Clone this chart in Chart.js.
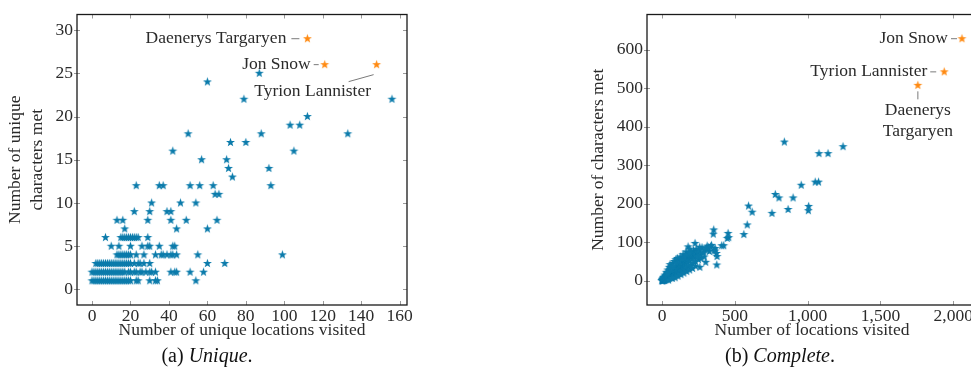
<!DOCTYPE html>
<html>
<head>
<meta charset="utf-8">
<script src="https://cdn.jsdelivr.net/npm/chart.js@4.4.1/dist/chart.umd.min.js"></script>
<style>
  html, body { margin: 0; padding: 0; background: #fff; overflow: hidden; }
  body { width: 971px; height: 379px; position: relative; }
  .panel { position: absolute; top: 0; width: 420px; height: 345px; }
  #uniquePanel { left: 0; }
  #completePanel { left: 580px; }
  .caption {
    position: absolute; top: 344px; transform: translateX(-50%);
    font-family: "Liberation Serif", serif; font-size: 20px; color: #111; white-space: nowrap;
  }
</style>
</head>
<body>
<div class="panel" id="uniquePanel"><canvas id="uniqueChart"></canvas></div>
<div class="panel" id="completePanel"><canvas id="completeChart"></canvas></div>
<div class="caption" style="left: 207px">(a) <i>Unique</i>.</div>
<div class="caption" style="left: 780px">(b) <i>Complete</i>.</div>
<script>
// (a) unique locations / unique characters, grouped by number of characters met
const uniqueLevels = [1, 2, 3, 4, 5, 6, 7, 8, 9, 10, 11, 12, 13, 14, 15, 16, 17, 18, 19, 20, 22, 24, 25];
const uniqueLocationsByLevel = [
  [0, 1, 2, 3, 4, 5, 6, 7, 8, 9, 10, 11, 12, 13, 14, 15, 16, 17, 18, 19, 20, 23, 24, 30, 33, 34, 54],
  [0, 1, 2, 3, 4, 5, 6, 7, 8, 9, 10, 11, 12, 13, 14, 15, 16, 17, 19, 20, 22, 23, 25, 26, 28, 30, 31, 33, 41, 43, 44, 51, 58],
  [2, 3, 4, 5, 6, 7, 8, 9, 10, 11, 12, 13, 14, 15, 16, 17, 18, 19, 20, 22, 24, 25, 27, 30, 60, 69],
  [13, 14, 15, 16, 17, 18, 19, 20, 23, 27, 33, 36, 37, 39, 41, 42, 44, 55, 99],
  [10, 14, 20, 26, 29, 30, 35, 42, 43],
  [7, 15, 16, 17, 18, 19, 20, 21, 22, 23, 24, 29],
  [17, 44, 60],
  [13, 16, 29, 41, 49, 65],
  [22, 30, 39, 41],
  [31, 46, 54],
  [64, 66],
  [23, 35, 37, 51, 56, 63, 93],
  [73],
  [71, 92],
  [57, 70],
  [42, 105],
  [72, 80],
  [50, 88, 133],
  [103, 108],
  [112],
  [79, 156],
  [60],
  [87]
];

// (b) all locations / all characters met
const completePoints = [
  [0, 0], [1, 1], [2, 0], [3, 2], [4, 1], [5, 3], [6, 0], [7, 2], [8, 4], [9, 1], [10, 3], [11, 5],
  [12, 2], [14, 4], [15, 6], [16, 1], [18, 3], [19, 7], [20, 5], [22, 2], [23, 8], [25, 4], [26, 10],
  [28, 6], [30, 3], [31, 9], [33, 12], [35, 5], [36, 8], [38, 14], [40, 7], [41, 11], [43, 4], [45, 16],
  [46, 9], [48, 13], [50, 6], [52, 18], [53, 11], [55, 15], [57, 8], [58, 20], [60, 12], [62, 17],
  [64, 9], [66, 23], [68, 14], [70, 19], [72, 10], [74, 25], [76, 16], [78, 21], [80, 12], [82, 28],
  [84, 18], [86, 24], [88, 14], [90, 31], [92, 20], [94, 26], [96, 15], [98, 34], [100, 22], [103, 28],
  [106, 17], [108, 38], [110, 25], [112, 31], [115, 19], [118, 42], [120, 28], [123, 35], [126, 21],
  [128, 46], [130, 32], [133, 39], [136, 24], [138, 50], [140, 36], [143, 43], [146, 27], [148, 55],
  [150, 40], [153, 47], [156, 30], [160, 60], [162, 44], [165, 52], [168, 33], [172, 66], [175, 48],
  [178, 57], [182, 37], [185, 70], [188, 52], [192, 62], [196, 41], [200, 74], [204, 56], [208, 66],
  [212, 45], [216, 78], [220, 60], [225, 70], [230, 50], [235, 82], [240, 64], [245, 74], [250, 55],
  [256, 80], [262, 68], [268, 58], [275, 86], [282, 72], [290, 62], [296, 80], [310, 90], [325, 76],
  [5, 5], [10, 8], [12, 9], [15, 10], [20, 15], [25, 12], [30, 22], [35, 18], [40, 28], [40, 20],
  [50, 35], [55, 42], [60, 30], [65, 38], [75, 45], [80, 38], [85, 50], [95, 55], [100, 45],
  [105, 58], [115, 48], [120, 50], [125, 62], [135, 55], [140, 58], [145, 68], [155, 60], [165, 75],
  [170, 68], [190, 72], [45, 2], [70, 6], [90, 8], [110, 12], [130, 16], [150, 20], [170, 24],
  [190, 28], [210, 32], [230, 38],
  [179, 88], [190, 82], [227, 97], [243, 63], [250, 78], [259, 87], [260, 35], [287, 75], [300, 48],
  [305, 84], [320, 86], [333, 88], [340, 92], [358, 80], [365, 84], [363, 77], [374, 71], [378, 63],
  [376, 41], [410, 91], [424, 91], [355, 132], [352, 121], [454, 123], [458, 112], [448, 110],
  [562, 120], [585, 145], [594, 194], [619, 178], [755, 175], [778, 224], [803, 215], [866, 185],
  [900, 215], [956, 248], [1007, 193], [1005, 182], [1052, 256], [1075, 256], [840, 360],
  [1078, 330], [1140, 330], [1243, 348]
];

const namedCharacters = ['Daenerys Targaryen', 'Jon Snow', 'Tyrion Lannister'];
const namedUniqueLocations = [112, 121, 148];
const namedUniqueCharacters = [29, 26, 26];
const namedCompleteLocations = [1757, 2060, 1938];
const namedCompleteCharacters = [507, 628, 542];

const uniqueXTicks = [0, 20, 40, 60, 80, 100, 120, 140, 160];
const uniqueYTicks = [0, 5, 10, 15, 20, 25, 30];
const completeXTicks = [0, 500, 1000, 1500, 2000];
const completeYTicks = [0, 100, 200, 300, 400, 500, 600];

const BLUE = '#0b7bab';
const ORANGE = '#ff8a12';
const TEXT = '#2b2b2b';
const FONT = '"Liberation Serif", "Times New Roman", serif';

Chart.defaults.font.family = FONT;
Chart.defaults.font.size = 17.5;
Chart.defaults.color = TEXT;

function starImage(color) {
  const size = 11;
  const c = document.createElement('canvas');
  c.width = size;
  c.height = size;
  const ctx = c.getContext('2d');
  ctx.beginPath();
  for (let i = 0; i < 10; i++) {
    const r = i % 2 ? 1.9 : 4.7;
    const a = -Math.PI / 2 + i * Math.PI / 5;
    ctx.lineTo(size / 2 + r * Math.cos(a), size / 2 + r * Math.sin(a));
  }
  ctx.closePath();
  ctx.fillStyle = color;
  ctx.fill();
  return c;
}

// box + small inward ticks on all four sides
const frame = {
  id: 'frame',
  afterDatasetsDraw(chart) {
    const { ctx, chartArea: a, scales: { x, y } } = chart;
    ctx.save();
    ctx.strokeStyle = '#9a9a9a';
    ctx.lineWidth = 1;
    ctx.beginPath();
    x.ticks.forEach((t) => {
      const px = Math.round(x.getPixelForValue(t.value)) + 0.5;
      ctx.moveTo(px, a.bottom); ctx.lineTo(px, a.bottom - 4);
      ctx.moveTo(px, a.top); ctx.lineTo(px, a.top + 4);
    });
    y.ticks.forEach((t) => {
      const py = Math.round(y.getPixelForValue(t.value)) + 0.5;
      ctx.moveTo(a.left - 3, py); ctx.lineTo(a.left + 3, py);
      ctx.moveTo(a.right, py); ctx.lineTo(a.right - 4, py);
    });
    ctx.stroke();
    ctx.strokeStyle = '#1a1a1a';
    ctx.lineWidth = 1.3;
    ctx.strokeRect(a.left, a.top, a.right - a.left, a.bottom - a.top);
    ctx.restore();
  }
};

function annotator(labels, xs, ys) {
  return {
    id: 'annotate',
    afterDatasetsDraw(chart) {
      const { ctx, scales: { x, y } } = chart;
      ctx.save();
      ctx.font = '17.5px ' + FONT;
      ctx.fillStyle = TEXT;
      ctx.strokeStyle = '#7a7a7a';
      ctx.lineWidth = 1;
      ctx.textBaseline = 'middle';
      labels.forEach((lab, i) => {
        const px = x.getPixelForValue(xs[i]);
        const py = y.getPixelForValue(ys[i]);
        ctx.textAlign = lab.align;
        lab.text.forEach((t, k) => ctx.fillText(t, px + lab.dx, py + lab.dy + k * 21));
        ctx.beginPath();
        ctx.moveTo(px + lab.line[0], py + lab.line[1]);
        ctx.lineTo(px + lab.line[2], py + lab.line[3]);
        ctx.stroke();
      });
      ctx.restore();
    }
  };
}

function fixedTicks(values) {
  return (scale) => { scale.ticks = values.map((value) => ({ value })); };
}

function makeChart(canvasId, cfg) {
  return new Chart(document.getElementById(canvasId), {
    type: 'scatter',
    data: {
      datasets: [
        { data: cfg.points, pointStyle: starImage(BLUE), pointRadius: 5 },
        { data: cfg.named, pointStyle: starImage(ORANGE), pointRadius: 5 }
      ]
    },
    options: {
      responsive: true,
      maintainAspectRatio: false,
      animation: false,
      events: [],
      layout: { padding: { top: 12, right: cfg.padRight, bottom: 0, left: 0 } },
      plugins: { legend: { display: false }, tooltip: { enabled: false } },
      scales: {
        x: {
          type: 'linear',
          min: cfg.xRange[0],
          max: cfg.xRange[1],
          afterBuildTicks: fixedTicks(cfg.xTicks),
          afterFit: (s) => { s.height = 40; },
          grid: { display: false, drawTicks: false },
          border: { display: false },
          ticks: { padding: 1, maxRotation: 0, autoSkip: false, callback: (v) => v.toLocaleString('en-US') },
          title: { display: true, text: cfg.xTitle, padding: { top: 0, bottom: 3.6 }, font: { lineHeight: 1.3 } }
        },
        y: {
          type: 'linear',
          min: cfg.yRange[0],
          max: cfg.yRange[1],
          afterBuildTicks: fixedTicks(cfg.yTicks),
          afterFit: (s) => { s.width = cfg.yWidth; },
          grid: { display: false, drawTicks: false },
          border: { display: false },
          ticks: { padding: 4, autoSkip: false },
          title: { display: true, text: cfg.yTitle, padding: { top: cfg.yTitlePad, bottom: 0 }, font: { lineHeight: 1.3 } }
        }
      }
    },
    plugins: [frame, annotator(cfg.labels, cfg.namedX, cfg.namedY)]
  });
}

const toPoints = (xs, ys) => xs.map((x, i) => ({ x, y: ys[i] }));

const uniquePoints = [];
uniqueLevels.forEach((level, i) => {
  uniqueLocationsByLevel[i].forEach((x) => uniquePoints.push({ x, y: level }));
});

makeChart('uniqueChart', {
  points: uniquePoints,
  named: toPoints(namedUniqueLocations, namedUniqueCharacters),
  namedX: namedUniqueLocations,
  namedY: namedUniqueCharacters,
  xRange: [-7.8, 163.8],
  yRange: [-1.8, 31.8],
  xTicks: uniqueXTicks,
  yTicks: uniqueYTicks,
  yWidth: 77,
  padRight: 13,
  yTitlePad: 3.6,
  xTitle: 'Number of unique locations visited',
  yTitle: ['Number of unique', 'characters met'],
  labels: [
    { text: [namedCharacters[0]], align: 'right', dx: -21, dy: 0, line: [-16, 0, -8, 0] },
    { text: [namedCharacters[1]], align: 'right', dx: -14, dy: 0, line: [-11, 0, -6, 0] },
    { text: [namedCharacters[2]], align: 'center', dx: -64, dy: 27, line: [-3, 10, -28, 17] }
  ]
});

makeChart('completeChart', {
  points: completePoints.map(([x, y]) => ({ x, y })),
  named: toPoints(namedCompleteLocations, namedCompleteCharacters),
  namedX: namedCompleteLocations,
  namedY: namedCompleteCharacters,
  xRange: [-103, 2163],
  yRange: [-62.8, 690.8],
  xTicks: completeXTicks,
  yTicks: completeYTicks,
  yWidth: 67,
  padRight: 23,
  yTitlePad: 6.6,
  xTitle: 'Number of locations visited',
  yTitle: 'Number of characters met',
  labels: [
    { text: namedCharacters[0].split(' '), align: 'center', dx: 0, dy: 25, line: [0, 6, 0, 14] },
    { text: [namedCharacters[1]], align: 'right', dx: -14, dy: 0, line: [-11, 0, -5, 0] },
    { text: [namedCharacters[2]], align: 'right', dx: -17, dy: 0, line: [-14, 0, -8, 0] }
  ]
});
</script>
</body>
</html>
